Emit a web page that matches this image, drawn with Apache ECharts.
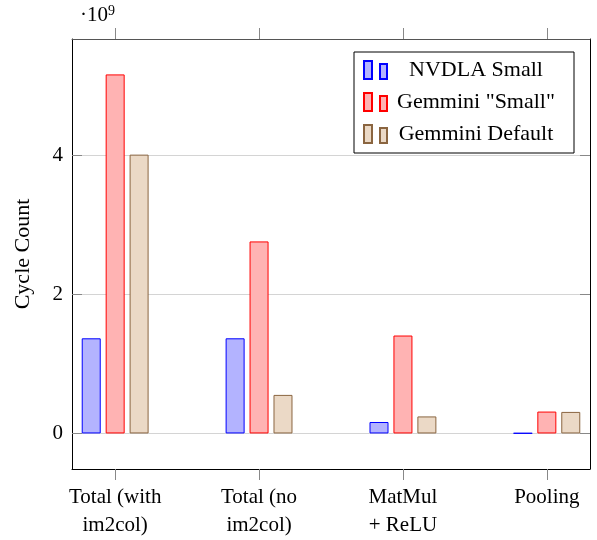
<!DOCTYPE html>
<html>
<head>
<meta charset="utf-8">
<script src="https://cdn.jsdelivr.net/npm/echarts@6/dist/echarts.min.js"></script>
<style>
  html, body { margin: 0; padding: 0; background: #fff; }
  #chart { width: 597px; height: 540px; }
</style>
</head>
<body>
<div id="chart"></div>
<script>
// data (cycle counts)
const categories = ["Total (with\nim2col)", "Total (no\nim2col)", "MatMul\n+ ReLU", "Pooling"];
const seriesNames = ["NVDLA Small", 'Gemmini "Small"', "Gemmini Default"];
const nvdlaSmall = [1.37e9, 1.37e9, 0.165e9, 0.005e9];
const gemminiSmall = [5.17e9, 2.765e9, 1.41e9, 0.315e9];
const gemminiDefault = [4.015e9, 0.555e9, 0.245e9, 0.31e9];
const yTicks = [0, 2e9, 4e9];
const catIdx = categories.map((c, i) => i);

const FONT = "Liberation Serif";
const myChart = echarts.init(document.getElementById("chart"));

function barSeries(name, values, fill, stroke) {
  return {
    name: name,
    type: "bar",
    xAxisIndex: 0,
    yAxisIndex: 0,
    barWidth: 19,
    barGap: "26%",
    itemStyle: { color: fill, borderColor: stroke, borderWidth: 1 },
    data: values.map((v, i) => [i, v]),
  };
}

myChart.setOption({
  animation: false,
  textStyle: { fontFamily: FONT },
  grid: { left: 72, top: 39, right: 7, bottom: 71 },
  graphic: [
    {
      type: "text",
      left: 80,
      top: 4,
      style: {
        text: "{a|·10}{b|9}",
        rich: {
          a: { fontSize: 21, fontFamily: FONT, fill: "#000" },
          b: { fontSize: 14, fontFamily: FONT, fill: "#000", verticalAlign: "top", padding: [0, 0, 9, 0] },
        },
      },
    },
  ],
  legend: {
    orient: "vertical",
    right: 23,
    top: 52,
    padding: [7, 14, 8, 9],
    itemGap: 10,
    itemWidth: 23,
    itemHeight: 18,
    icon: "path://M0,0h8v18h-8z M16,3h7v15h-7z",
    backgroundColor: "#fff",
    borderColor: "#000",
    borderWidth: 1,
    borderRadius: 0,
    data: seriesNames,
    formatter: (name) => "{t|" + name + "}",
    textStyle: {
      rich: { t: { width: 168, align: "center", fontSize: 22, fontFamily: FONT, color: "#000", lineHeight: 22 } },
    },
  },
  xAxis: [
    {
      type: "value",
      position: "bottom",
      min: -0.3,
      max: 3.3,
      axisLine: { show: true, onZero: false, lineStyle: { color: "#000", width: 1 } },
      axisTick: { show: true, inside: false, length: 11, customValues: catIdx, lineStyle: { color: "#888" } },
      axisLabel: {
        customValues: catIdx,
        formatter: (v) => categories[Math.round(v)] || "",
        color: "#000",
        fontSize: 21,
        fontFamily: FONT,
        lineHeight: 28,
        margin: 14,
      },
      splitLine: { show: false },
    },
    {
      type: "value",
      position: "top",
      min: -0.3,
      max: 3.3,
      axisLine: { show: true, onZero: false, lineStyle: { color: "#555", width: 1 } },
      axisTick: { show: true, inside: false, length: 11, customValues: catIdx, lineStyle: { color: "#888" } },
      axisLabel: { show: false },
      splitLine: { show: false },
    },
  ],
  yAxis: [
    {
      type: "value",
      position: "left",
      min: -0.512e9,
      max: 5.68e9,
      name: "Cycle Count",
      nameLocation: "middle",
      nameGap: 38,
      nameTextStyle: { fontSize: 22, fontFamily: FONT, color: "#000" },
      axisLine: { show: true, onZero: false, lineStyle: { color: "#000", width: 1 } },
      axisTick: { show: true, inside: true, length: 10, customValues: yTicks, lineStyle: { color: "#888" } },
      axisLabel: {
        customValues: yTicks,
        formatter: (v) => String(Math.round(v / 1e9)),
        color: "#000",
        fontSize: 21,
        fontFamily: FONT,
        margin: 9,
      },
      splitLine: { show: true, lineStyle: { color: "#d4d4d4", width: 1 } },
    },
    {
      type: "value",
      position: "right",
      min: -0.512e9,
      max: 5.68e9,
      axisLine: { show: true, onZero: false, lineStyle: { color: "#000", width: 1 } },
      axisTick: { show: true, inside: true, length: 10, customValues: yTicks, lineStyle: { color: "#888" } },
      axisLabel: { show: false },
      splitLine: { show: false },
    },
  ],
  series: [
    barSeries(seriesNames[0], nvdlaSmall, "#b3b3ff", "#0000ff"),
    barSeries(seriesNames[1], gemminiSmall, "#ffb3b3", "#ff0000"),
    barSeries(seriesNames[2], gemminiDefault, "#ebd9c6", "#8a6540"),
  ],
});
</script>
</body>
</html>
